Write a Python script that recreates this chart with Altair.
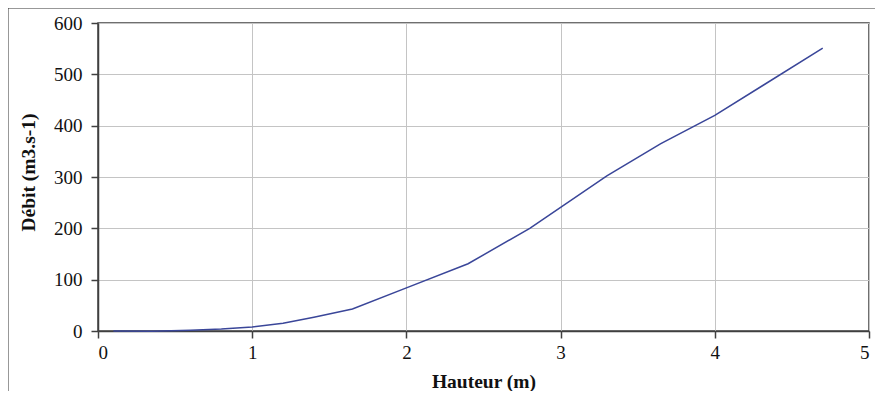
import altair as alt
import pandas as pd

hauteur = [0.1, 0.35, 0.6, 0.8, 1.0, 1.2, 1.4, 1.65, 2.0, 2.4, 2.8, 3.3, 3.65, 4.0, 4.7]
debit = [0.0, -0.5, 1.5, 4.0, 8.0, 15.0, 27.0, 43.0, 84.0, 131.0, 200.0, 302.0, 365.0, 420.0, 551.0]
x_ticks = [0, 1, 2, 3, 4, 5]
y_ticks = [0, 100, 200, 300, 400, 500, 600]

df = pd.DataFrame({"h": hauteur, "q": debit})

W, H = 771, 308
FONT = "Liberation Serif"

line = alt.Chart(df).mark_line(color="#3a4699", strokeWidth=1.5).encode(
    x=alt.X("h:Q", title="Hauteur (m)",
            scale=alt.Scale(domain=[0, 5], nice=False),
            axis=alt.Axis(values=x_ticks, format="d", tickSize=7, labelPadding=5,
                          titlePadding=10)),
    y=alt.Y("q:Q", title="Débit (m3.s-1)",
            scale=alt.Scale(domain=[0, 600], nice=False),
            axis=alt.Axis(values=y_ticks, format="d", tickSize=7, labelPadding=9,
                          titleX=-64, titleY=149, titleBaseline="alphabetic")),
)

frame = alt.Chart(alt.Data(values=[{}])).mark_rect(
    fill=None, stroke="#333333", strokeWidth=1
).encode(
    x=alt.value(-90), x2=alt.value(W + 100),
    y=alt.value(-15), y2=alt.value(H + 100),
)

chart = alt.layer(frame, line).properties(
    width=W, height=H,
    autosize=alt.AutoSizeParams(type="none"),
    padding={"left": 90, "top": 15, "right": 6, "bottom": 60},
).configure_view(
    stroke="#404040", strokeWidth=1.5
).configure_axis(
    labelFont=FONT, titleFont=FONT, labelFontSize=19, titleFontSize=19.5,
    titleFontWeight="bold", labelColor="#111111", titleColor="#111111",
    domainColor="#404040", domainWidth=1.5, tickColor="#404040", tickWidth=1.5,
    gridColor="#c4c4c4", gridWidth=1,
)

chart.save("out.html", embed_options={"renderer": "svg", "actions": False})
